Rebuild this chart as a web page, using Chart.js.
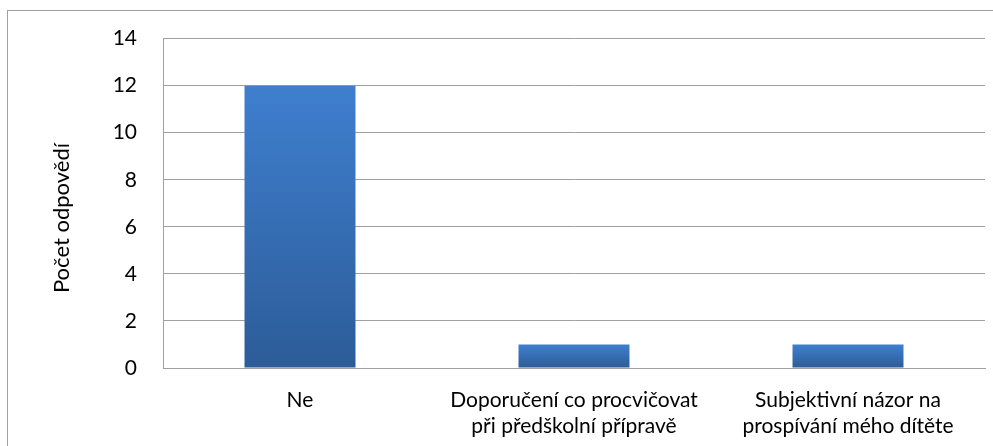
<!DOCTYPE html>
<html>
<head>
<meta charset="utf-8">
<script src="https://cdn.jsdelivr.net/npm/chart.js@4"></script>
<style>
  html, body { margin: 0; padding: 0; background: #fff; overflow: hidden; }
  #frame { position: absolute; left: 7px; top: 10px; width: 1100px; height: 600px; border: 1px solid #a0a0a0; }
  #wrap { position: absolute; left: 0; top: 0; width: 993px; height: 446px; }
</style>
</head>
<body>
<div id="frame"></div>
<div id="wrap"><canvas id="myChart"></canvas></div>
<script>
const categories = [
  'Ne',
  ['Doporučení co procvičovat', 'při předškolní přípravě'],
  ['Subjektivní názor na', 'prospívání mého dítěte']
];
const counts = [12, 1, 1];
const yTicks = [0, 2, 4, 6, 8, 10, 12, 14];
const yTitle = 'Počet odpovědí';

const font = "Lato, 'Open Sans', sans-serif";

function barFill(context) {
  const chart = context.chart;
  const y = chart.scales.y;
  if (!y || !context.parsed) return '#3a70b8';
  const top = y.getPixelForValue(context.parsed.y);
  const base = y.getPixelForValue(0);
  if (!isFinite(top) || !isFinite(base) || top === base) return '#3a70b8';
  const g = chart.ctx.createLinearGradient(0, top, 0, base);
  g.addColorStop(0, '#3f7fcf');
  g.addColorStop(1, '#2c5c98');
  return g;
}

// axis title drawn a bit lower than the axis centre, like the original
const axisTitle = {
  id: 'axisTitle',
  afterDraw(chart) {
    const c = chart.ctx;
    c.save();
    c.translate(62, 218);
    c.rotate(-Math.PI / 2);
    c.font = '22px ' + font;
    c.fillStyle = '#000';
    c.textAlign = 'center';
    c.textBaseline = 'middle';
    c.fillText(yTitle, 0, 0);
    c.restore();
  }
};

const ctx = document.getElementById('myChart').getContext('2d');
new Chart(ctx, {
  type: 'bar',
  data: {
    labels: categories,
    datasets: [{
      data: counts,
      backgroundColor: barFill,
      barPercentage: 0.81,
      categoryPercentage: 0.5
    }]
  },
  options: {
    responsive: true,
    maintainAspectRatio: false,
    animation: false,
    layout: { padding: { left: 0, top: 37, right: 8, bottom: 0 } },
    plugins: { legend: { display: false }, tooltip: { enabled: false } },
    scales: {
      x: {
        grid: { display: false, drawTicks: false },
        border: { color: '#a0a0a0', width: 1 },
        ticks: { color: '#000', font: { family: font, size: 21, lineHeight: 1.25 }, padding: 19, maxRotation: 0, autoSkip: false },
        afterFit: s => { s.height = 78; }
      },
      y: {
        min: 0,
        max: 14,
        afterBuildTicks: s => { s.ticks = yTicks.map(v => ({ value: v })); },
        grid: { color: '#a0a0a0', drawTicks: false },
        border: { color: '#a0a0a0', width: 1 },
        ticks: { color: '#000', font: { family: font, size: 21 }, padding: 26 },
        afterFit: s => { s.width = 163; }
      }
    }
  },
  plugins: [axisTitle]
});
</script>
</body>
</html>
